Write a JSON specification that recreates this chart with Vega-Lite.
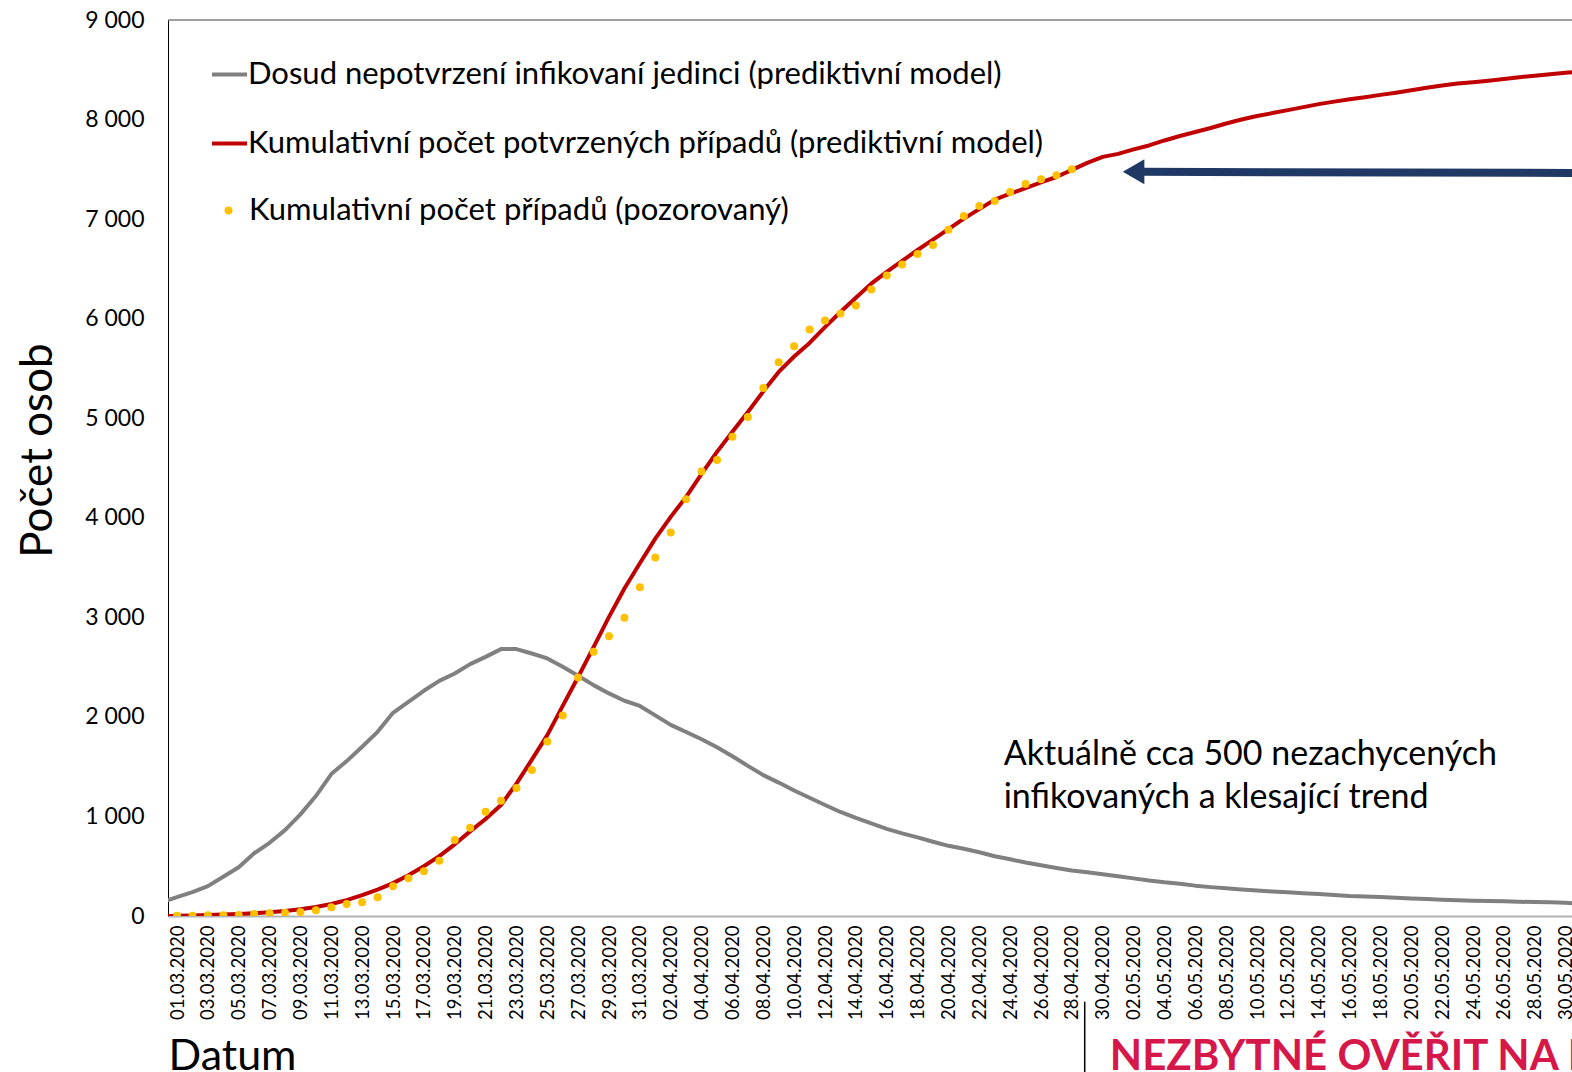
{
  "$schema": "https://vega.github.io/schema/vega-lite/v6.json",
  "width": 1404,
  "height": 896,
  "autosize": {"type": "none"},
  "padding": {"left": 168, "top": 20, "right": 0, "bottom": 156},
  "background": "white",
  "config": {
    "view": {"stroke": null},
    "font": "Lato",
    "axisX": {
      "domainColor": "#b4b4b4", "domainWidth": 2, "ticks": false, "grid": false,
      "labelAngle": 270, "labelAlign": "right", "labelBaseline": "middle",
      "labelFont": "Lato", "labelFontSize": 18.5, "labelColor": "#000000", "labelPadding": 9,
      "labelOverlap": false, "labelFlush": false, "labelBound": false, "labelSeparation": -20,
      "titleFont": "Lato", "titleFontSize": 43, "titleFontWeight": "normal", "titleColor": "#000000",
      "titleAnchor": "start", "titleAlign": "left", "titlePadding": 16
    },
    "axisY": {
      "domainColor": "#000000", "domainWidth": 1, "ticks": false,
      "gridColor": "#d9d9d9", "gridWidth": 1.3,
      "labelFont": "Lato", "labelFontSize": 23, "labelColor": "#000000", "labelPadding": 24,
      "titleFont": "Lato", "titleFontSize": 44, "titleFontWeight": "normal", "titleColor": "#000000",
      "titlePadding": 24
    }
  },
  "data": {
    "format": {"parse": {"date": "date:'%Y-%m-%d'"}},
    "values": [
      {"date": "2020-02-29", "hidden": 136, "model": 0},
      {"date": "2020-03-01", "hidden": 190, "model": 2, "obs": 2},
      {"date": "2020-03-02", "hidden": 240, "model": 5, "obs": 2},
      {"date": "2020-03-03", "hidden": 300, "model": 9, "obs": 8},
      {"date": "2020-03-04", "hidden": 395, "model": 14, "obs": 8},
      {"date": "2020-03-05", "hidden": 490, "model": 20, "obs": 10},
      {"date": "2020-03-06", "hidden": 630, "model": 28, "obs": 20},
      {"date": "2020-03-07", "hidden": 735, "model": 38, "obs": 28},
      {"date": "2020-03-08", "hidden": 863, "model": 50, "obs": 32},
      {"date": "2020-03-09", "hidden": 1021, "model": 68, "obs": 40},
      {"date": "2020-03-10", "hidden": 1205, "model": 90, "obs": 58},
      {"date": "2020-03-11", "hidden": 1426, "model": 120, "obs": 88},
      {"date": "2020-03-12", "hidden": 1556, "model": 160, "obs": 120},
      {"date": "2020-03-13", "hidden": 1700, "model": 210, "obs": 137},
      {"date": "2020-03-14", "hidden": 1850, "model": 265, "obs": 188},
      {"date": "2020-03-15", "hidden": 2041, "model": 330, "obs": 298},
      {"date": "2020-03-16", "hidden": 2152, "model": 410, "obs": 378},
      {"date": "2020-03-17", "hidden": 2262, "model": 500, "obs": 449},
      {"date": "2020-03-18", "hidden": 2362, "model": 602, "obs": 555},
      {"date": "2020-03-19", "hidden": 2436, "model": 720, "obs": 763},
      {"date": "2020-03-20", "hidden": 2530, "model": 850, "obs": 887},
      {"date": "2020-03-21", "hidden": 2603, "model": 975, "obs": 1047},
      {"date": "2020-03-22", "hidden": 2681, "model": 1114, "obs": 1158},
      {"date": "2020-03-23", "hidden": 2681, "model": 1330, "obs": 1285},
      {"date": "2020-03-24", "hidden": 2637, "model": 1570, "obs": 1466},
      {"date": "2020-03-25", "hidden": 2587, "model": 1817, "obs": 1754},
      {"date": "2020-03-26", "hidden": 2503, "model": 2110, "obs": 2015},
      {"date": "2020-03-27", "hidden": 2413, "model": 2400, "obs": 2396},
      {"date": "2020-03-28", "hidden": 2319, "model": 2700, "obs": 2654},
      {"date": "2020-03-29", "hidden": 2236, "model": 3005, "obs": 2811},
      {"date": "2020-03-30", "hidden": 2162, "model": 3290, "obs": 2995},
      {"date": "2020-03-31", "hidden": 2110, "model": 3544, "obs": 3303},
      {"date": "2020-04-01", "hidden": 2015, "model": 3790, "obs": 3600},
      {"date": "2020-04-02", "hidden": 1920, "model": 4009, "obs": 3852},
      {"date": "2020-04-03", "hidden": 1848, "model": 4210, "obs": 4187},
      {"date": "2020-04-04", "hidden": 1776, "model": 4440, "obs": 4465},
      {"date": "2020-04-05", "hidden": 1695, "model": 4662, "obs": 4581},
      {"date": "2020-04-06", "hidden": 1605, "model": 4865, "obs": 4813},
      {"date": "2020-04-07", "hidden": 1508, "model": 5063, "obs": 5013},
      {"date": "2020-04-08", "hidden": 1415, "model": 5270, "obs": 5304},
      {"date": "2020-04-09", "hidden": 1340, "model": 5465, "obs": 5562},
      {"date": "2020-04-10", "hidden": 1260, "model": 5620, "obs": 5723},
      {"date": "2020-04-11", "hidden": 1188, "model": 5756, "obs": 5890},
      {"date": "2020-04-12", "hidden": 1115, "model": 5915, "obs": 5981},
      {"date": "2020-04-13", "hidden": 1045, "model": 6067, "obs": 6051},
      {"date": "2020-04-14", "hidden": 985, "model": 6210, "obs": 6131},
      {"date": "2020-04-15", "hidden": 930, "model": 6352, "obs": 6292},
      {"date": "2020-04-16", "hidden": 875, "model": 6470, "obs": 6433},
      {"date": "2020-04-17", "hidden": 830, "model": 6580, "obs": 6543},
      {"date": "2020-04-18", "hidden": 790, "model": 6690, "obs": 6650},
      {"date": "2020-04-19", "hidden": 746, "model": 6794, "obs": 6740},
      {"date": "2020-04-20", "hidden": 705, "model": 6900, "obs": 6894},
      {"date": "2020-04-21", "hidden": 675, "model": 7005, "obs": 7031},
      {"date": "2020-04-22", "hidden": 640, "model": 7100, "obs": 7132},
      {"date": "2020-04-23", "hidden": 600, "model": 7196, "obs": 7182},
      {"date": "2020-04-24", "hidden": 570, "model": 7255, "obs": 7272},
      {"date": "2020-04-25", "hidden": 537, "model": 7312, "obs": 7352},
      {"date": "2020-04-26", "hidden": 510, "model": 7370, "obs": 7400},
      {"date": "2020-04-27", "hidden": 483, "model": 7423, "obs": 7440},
      {"date": "2020-04-28", "hidden": 458, "model": 7495, "obs": 7500},
      {"date": "2020-04-29", "hidden": 440, "model": 7565},
      {"date": "2020-04-30", "hidden": 420, "model": 7625},
      {"date": "2020-05-01", "hidden": 400, "model": 7655},
      {"date": "2020-05-02", "hidden": 378, "model": 7700},
      {"date": "2020-05-03", "hidden": 356, "model": 7740},
      {"date": "2020-05-04", "hidden": 338, "model": 7790},
      {"date": "2020-05-05", "hidden": 324, "model": 7835},
      {"date": "2020-05-06", "hidden": 305, "model": 7875},
      {"date": "2020-05-07", "hidden": 290, "model": 7915},
      {"date": "2020-05-08", "hidden": 278, "model": 7960},
      {"date": "2020-05-09", "hidden": 266, "model": 8000},
      {"date": "2020-05-10", "hidden": 256, "model": 8035},
      {"date": "2020-05-11", "hidden": 246, "model": 8065},
      {"date": "2020-05-12", "hidden": 238, "model": 8095},
      {"date": "2020-05-13", "hidden": 228, "model": 8125},
      {"date": "2020-05-14", "hidden": 220, "model": 8155},
      {"date": "2020-05-15", "hidden": 210, "model": 8180},
      {"date": "2020-05-16", "hidden": 201, "model": 8203},
      {"date": "2020-05-17", "hidden": 196, "model": 8225},
      {"date": "2020-05-18", "hidden": 192, "model": 8248},
      {"date": "2020-05-19", "hidden": 184, "model": 8270},
      {"date": "2020-05-20", "hidden": 177, "model": 8295},
      {"date": "2020-05-21", "hidden": 170, "model": 8320},
      {"date": "2020-05-22", "hidden": 163, "model": 8342},
      {"date": "2020-05-23", "hidden": 158, "model": 8362},
      {"date": "2020-05-24", "hidden": 154, "model": 8375},
      {"date": "2020-05-25", "hidden": 150, "model": 8390},
      {"date": "2020-05-26", "hidden": 147, "model": 8408},
      {"date": "2020-05-27", "hidden": 143, "model": 8425},
      {"date": "2020-05-28", "hidden": 140, "model": 8440},
      {"date": "2020-05-29", "hidden": 137, "model": 8454},
      {"date": "2020-05-30", "hidden": 132, "model": 8470},
      {"date": "2020-05-31", "hidden": 125, "model": 8485}
    ]
  },
  "layer": [
    {
      "mark": {"type": "rule", "color": "#404040", "strokeWidth": 1.2},
      "data": {"values": [{}]},
      "encoding": {"y": {"datum": 9000, "type": "quantitative"}}
    },
    {
      "mark": {"type": "line", "strokeWidth": 4, "clip": true, "strokeJoin": "round"},
      "encoding": {
        "x": {
          "field": "date", "type": "temporal", "title": "Datum",
          "scale": {"domain": [{"year": 2020, "month": 2, "date": 29, "hours": 10}, {"year": 2020, "month": 5, "date": 30, "hours": 10}]},
          "axis": {
            "format": "%d.%m.%Y",
            "labelOverlap": false,
            "labelSeparation": -20,
            "tickCount": 46,
            "values": [
              {"year": 2020, "month": 3, "date": 1}, {"year": 2020, "month": 3, "date": 3}, {"year": 2020, "month": 3, "date": 5},
              {"year": 2020, "month": 3, "date": 7}, {"year": 2020, "month": 3, "date": 9}, {"year": 2020, "month": 3, "date": 11},
              {"year": 2020, "month": 3, "date": 13}, {"year": 2020, "month": 3, "date": 15}, {"year": 2020, "month": 3, "date": 17},
              {"year": 2020, "month": 3, "date": 19}, {"year": 2020, "month": 3, "date": 21}, {"year": 2020, "month": 3, "date": 23},
              {"year": 2020, "month": 3, "date": 25}, {"year": 2020, "month": 3, "date": 27}, {"year": 2020, "month": 3, "date": 29},
              {"year": 2020, "month": 3, "date": 31}, {"year": 2020, "month": 4, "date": 2}, {"year": 2020, "month": 4, "date": 4},
              {"year": 2020, "month": 4, "date": 6}, {"year": 2020, "month": 4, "date": 8}, {"year": 2020, "month": 4, "date": 10},
              {"year": 2020, "month": 4, "date": 12}, {"year": 2020, "month": 4, "date": 14}, {"year": 2020, "month": 4, "date": 16},
              {"year": 2020, "month": 4, "date": 18}, {"year": 2020, "month": 4, "date": 20}, {"year": 2020, "month": 4, "date": 22},
              {"year": 2020, "month": 4, "date": 24}, {"year": 2020, "month": 4, "date": 26}, {"year": 2020, "month": 4, "date": 28},
              {"year": 2020, "month": 4, "date": 30}, {"year": 2020, "month": 5, "date": 2}, {"year": 2020, "month": 5, "date": 4},
              {"year": 2020, "month": 5, "date": 6}, {"year": 2020, "month": 5, "date": 8}, {"year": 2020, "month": 5, "date": 10},
              {"year": 2020, "month": 5, "date": 12}, {"year": 2020, "month": 5, "date": 14}, {"year": 2020, "month": 5, "date": 16},
              {"year": 2020, "month": 5, "date": 18}, {"year": 2020, "month": 5, "date": 20}, {"year": 2020, "month": 5, "date": 22},
              {"year": 2020, "month": 5, "date": 24}, {"year": 2020, "month": 5, "date": 26}, {"year": 2020, "month": 5, "date": 28},
              {"year": 2020, "month": 5, "date": 30}
            ]
          }
        },
        "y": {
          "field": "hidden", "type": "quantitative", "title": "Počet osob",
          "scale": {"domain": [0, 9000], "nice": false, "zero": true},
          "axis": {"values": [0, 1000, 2000, 3000, 4000, 5000, 6000, 7000, 8000, 9000], "labelExpr": "replace(format(datum.value, ','), ',', ' ')", "titleY": 430}
        },
        "color": {
          "datum": "Dosud nepotvrzení infikovaní jedinci (prediktivní model)",
          "type": "nominal",
          "scale": {
            "domain": ["Dosud nepotvrzení infikovaní jedinci (prediktivní model)", "Kumulativní počet potvrzených případů (prediktivní model)"],
            "range": ["#808080", "#c00000"]
          },
          "legend": {
            "orient": "none", "legendX": 42, "legendY": 35, "title": null,
            "symbolType": "stroke", "symbolSize": 1225, "symbolStrokeWidth": 4,
            "labelFont": "Lato", "labelFontSize": 31, "labelColor": "#000000", "labelLimit": 2000,
            "labelOffset": -1, "rowPadding": 34, "direction": "vertical"
          }
        }
      }
    },
    {
      "mark": {"type": "line", "strokeWidth": 4, "clip": true, "strokeJoin": "round"},
      "encoding": {
        "x": {"field": "date", "type": "temporal", "title": "Datum"},
        "y": {"field": "model", "type": "quantitative", "title": "Počet osob"},
        "color": {"datum": "Kumulativní počet potvrzených případů (prediktivní model)", "type": "nominal"}
      }
    },
    {
      "mark": {"type": "point", "filled": true, "size": 64, "opacity": 1, "strokeWidth": 0, "clip": true},
      "transform": [{"filter": "isValid(datum.obs)"}],
      "encoding": {
        "x": {"field": "date", "type": "temporal", "title": "Datum"},
        "y": {"field": "obs", "type": "quantitative", "title": "Počet osob"},
        "fill": {
          "datum": "Kumulativní počet případů (pozorovaný)",
          "type": "nominal",
          "scale": {"range": ["#ffc000"]},
          "legend": {
            "orient": "none", "legendX": 45, "legendY": 175, "title": null,
            "symbolType": "circle", "symbolSize": 64, "symbolStrokeWidth": 0,
            "labelFont": "Lato", "labelFontSize": 31, "labelColor": "#000000", "labelLimit": 2000,
            "labelOffset": 5
          }
        }
      }
    },
    {
      "mark": {"type": "rule", "color": "#203864", "strokeWidth": 8, "clip": true},
      "data": {"values": [{}]},
      "encoding": {
        "x": {"datum": {"year": 2020, "month": 5, "date": 2, "hours": 12}, "type": "temporal"},
        "x2": {"datum": {"year": 2020, "month": 6, "date": 3}},
        "y": {"datum": 7475, "type": "quantitative"},
        "y2": {"datum": 7462}
      }
    },
    {
      "mark": {"type": "point", "shape": "triangle-left", "filled": true, "size": 620, "color": "#203864", "opacity": 1, "strokeWidth": 0},
      "data": {"values": [{}]},
      "encoding": {
        "x": {"datum": {"year": 2020, "month": 5, "date": 2}, "type": "temporal"},
        "y": {"datum": 7475, "type": "quantitative"}
      }
    },
    {
      "mark": {"type": "text", "align": "left", "baseline": "alphabetic", "font": "Lato", "fontSize": 34, "color": "#000000", "lineHeight": 43, "text": ["Aktuálně cca 500 nezachycených", "infikovaných a klesající trend"]},
      "data": {"values": [{}]},
      "encoding": {
        "x": {"datum": {"year": 2020, "month": 4, "date": 23, "hours": 14}, "type": "temporal"},
        "y": {"datum": 1516, "type": "quantitative"}
      }
    },
    {
      "mark": {"type": "rule", "color": "#000000", "strokeWidth": 1.5, "clip": false},
      "data": {"values": [{}]},
      "encoding": {
        "x": {"datum": {"year": 2020, "month": 4, "date": 28, "hours": 20}, "type": "temporal"},
        "y": {"datum": -861, "type": "quantitative"},
        "y2": {"datum": -1650}
      }
    },
    {
      "mark": {"type": "text", "align": "left", "baseline": "alphabetic", "font": "Lato", "fontSize": 42, "fontWeight": "bold", "color": "#d5174a", "clip": false, "text": "NEZBYTNÉ OVĚŘIT NA E"},
      "data": {"values": [{}]},
      "encoding": {
        "x": {"datum": {"year": 2020, "month": 4, "date": 30, "hours": 11}, "type": "temporal"},
        "y": {"datum": -1547, "type": "quantitative"}
      }
    }
  ]
}
